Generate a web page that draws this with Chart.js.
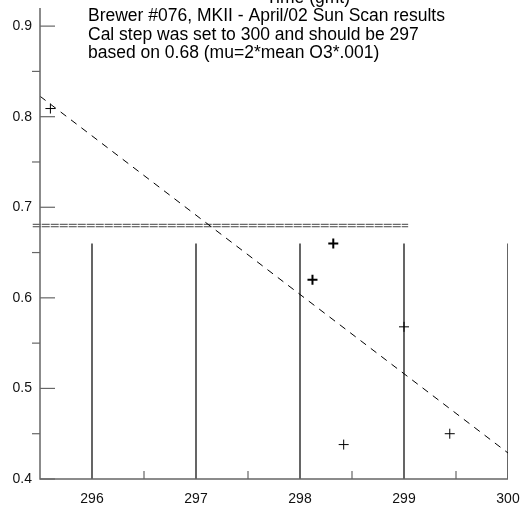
<!DOCTYPE html>
<html>
<head>
<meta charset="utf-8">
<script src="https://cdn.jsdelivr.net/npm/chart.js@4/dist/chart.umd.min.js"></script>
<style>
  html, body { margin: 0; padding: 0; background: #fff; }
  canvas { display: block; }
</style>
</head>
<body>
<canvas id="scan" width="527" height="508"></canvas>
<script>
const xTickValues = [296, 297, 298, 299, 300];
const xMinorTicks = [296.5, 297.5, 298.5, 299.5];
const yTickValues = [0.4, 0.5, 0.6, 0.7, 0.8, 0.9];
const yMinorTicks = [0.45, 0.55, 0.65, 0.75, 0.85];

// sun scan results (cal step vs ratio)
const scanX = [295.6, 298.32, 298.12, 299.0, 298.42, 299.44];
const scanY = [0.809, 0.660, 0.620, 0.568, 0.438, 0.450];
const scanWeight = [1, 2, 2, 1, 1, 1];

// fitted line
const fitX = [295.5, 300];
const fitY = [0.8226, 0.4287];

// mu level marker and step lines
const calLevel = 0.68;
const calLineX = [295.43, 299.04];
const stepLineTop = 0.66;

const titleLines = [
  'Brewer #076, MKII - April/02 Sun Scan results',
  'Cal step was set to 300 and should be 297',
  'based on 0.68 (mu=2*mean O3*.001)'
];
const topLabel = 'Time (gmt)';

const FONT = '"Liberation Sans", Arial, sans-serif';

const stepLines = xTickValues.flatMap((x) => [
  { x, y: 0.4 }, { x, y: stepLineTop }, { x, y: null }
]);

const axisMarks = {
  id: 'axisMarks',
  afterDatasetsDraw(chart) {
    const { ctx, chartArea: a, scales: { x, y } } = chart;
    ctx.save();
    ctx.strokeStyle = '#666';
    ctx.lineWidth = 1.5;
    ctx.beginPath();
    ctx.moveTo(a.left, a.top);
    ctx.lineTo(a.left, a.bottom);
    ctx.lineTo(a.right, a.bottom);
    ctx.stroke();

    ctx.lineWidth = 1.2;
    yTickValues.forEach((v) => {
      const py = y.getPixelForValue(v);
      ctx.beginPath();
      ctx.moveTo(a.left, py);
      ctx.lineTo(a.left + 15, py);
      ctx.stroke();
    });
    yMinorTicks.forEach((v) => {
      const py = y.getPixelForValue(v);
      ctx.beginPath();
      ctx.moveTo(a.left - 8, py);
      ctx.lineTo(a.left, py);
      ctx.stroke();
    });
    xMinorTicks.forEach((v) => {
      const px = x.getPixelForValue(v);
      ctx.beginPath();
      ctx.moveTo(px, a.bottom);
      ctx.lineTo(px, a.bottom - 8);
      ctx.stroke();
    });

    ctx.fillStyle = '#000';
    ctx.font = '17.5px ' + FONT;
    ctx.textAlign = 'left';
    ctx.textBaseline = 'alphabetic';
    titleLines.forEach((line, i) => {
      ctx.fillText(line, 88, 21 + i * 18.5);
    });
    ctx.textAlign = 'center';
    ctx.fillText(topLabel, 308, 2.5);
    ctx.restore();
  }
};

new Chart(document.getElementById('scan'), {
  type: 'scatter',
  data: {
    datasets: [
      {
        data: stepLines,
        showLine: true,
        spanGaps: false,
        borderColor: '#000',
        borderWidth: 1.2,
        pointRadius: 0
      },
      {
        data: fitX.map((x, i) => ({ x, y: fitY[i] })),
        showLine: true,
        borderColor: '#000',
        borderWidth: 1,
        borderDash: [7, 6],
        pointRadius: 0
      },
      {
        data: calLineX.map((x) => ({ x, y: calLevel + 0.0012 })),
        showLine: true,
        borderColor: '#444',
        borderWidth: 1,
        borderDash: [8, 1],
        pointRadius: 0,
        clip: false
      },
      {
        data: calLineX.map((x) => ({ x, y: calLevel - 0.0015 })),
        showLine: true,
        borderColor: '#444',
        borderWidth: 1,
        borderDash: [8, 1],
        pointRadius: 0,
        clip: false
      },
      {
        data: scanX.map((x, i) => ({ x, y: scanY[i] })),
        pointStyle: 'cross',
        pointRadius: 5,
        pointBorderWidth: scanWeight,
        pointBorderColor: '#000',
        pointBackgroundColor: '#000'
      }
    ]
  },
  options: {
    responsive: false,
    animation: false,
    devicePixelRatio: 1,
    layout: {
      padding: { top: 0, right: 19, left: 0, bottom: 0 }
    },
    plugins: {
      legend: { display: false },
      tooltip: { enabled: false }
    },
    scales: {
      x: {
        type: 'linear',
        min: 295.5,
        max: 300,
        afterFit: (scale) => {
          scale.height = 29;
          scale.paddingLeft = 0;
          scale.paddingRight = 0;
        },
        afterBuildTicks: (scale) => {
          scale.ticks = xTickValues.map((value) => ({ value }));
        },
        grid: { display: false, drawTicks: false },
        border: { display: false },
        ticks: {
          color: '#111',
          padding: 12,
          maxRotation: 0,
          font: { family: FONT, size: 14 },
          callback: (v) => String(v)
        }
      },
      y: {
        type: 'linear',
        min: 0.4,
        max: 0.92,
        afterFit: (scale) => { scale.width = 40; scale.paddingTop = 8; },
        afterBuildTicks: (scale) => {
          scale.ticks = yTickValues.map((value) => ({ value }));
        },
        grid: { display: false, drawTicks: false },
        border: { display: false },
        ticks: {
          color: '#111',
          padding: 8,
          font: { family: FONT, size: 14 },
          callback: (v) => v.toFixed(1)
        }
      }
    }
  },
  plugins: [axisMarks]
});
</script>
</body>
</html>
